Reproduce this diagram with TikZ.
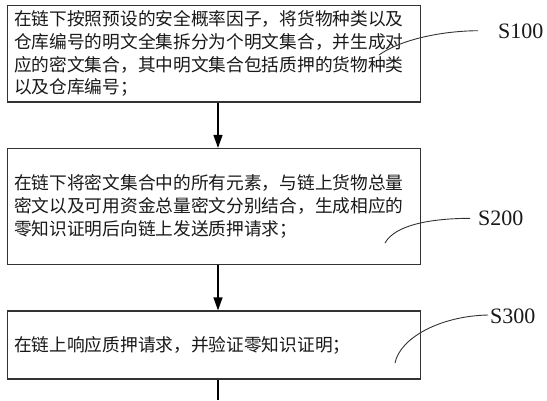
\documentclass[tikz,border=0pt]{standalone}
\usepackage{fontspec}
\setmainfont{Liberation Serif}
\newfontfamily\cjk{Noto Sans CJK SC}
\usetikzlibrary{arrows.meta}
\tikzset{
  stepbox/.style={draw=black!80, line width=1.2pt, inner xsep=7pt, inner ysep=0pt,
    text width=399pt, align=left, minimum width=413pt, text=black!90,
    font=\cjk\fontsize{17.7}{22.7}\selectfont},
  flow/.style={draw=black, line width=1.2pt, -{Triangle[length=13pt,width=9pt]}},
  plain/.style={draw=black, line width=1.2pt},
  lead/.style={draw=black!80, line width=0.9pt},
  lab/.style={inner sep=0pt, font=\fontsize{22}{26}\selectfont, text=black!90}
}
\begin{document}
\begin{tikzpicture}[x=1pt,y=-1pt]
\useasboundingbox[fill=white] (0,0) rectangle (547,400);
\node[stepbox, minimum height=96.4pt] (b1) at (213.7,53.8)
  {在链下按照预设的安全概率因子，将货物种类以及\\仓库编号的明文全集拆分为个明文集合，并生成对\\应的密文集合，其中明文集合包括质押的货物种类\\以及仓库编号；};
\node[stepbox, minimum height=116pt] (b2) at (213.7,206.5)
  {在链下将密文集合中的所有元素，与链上货物总量\\密文以及可用资金总量密文分别结合，生成相应的\\零知识证明后向链上发送质押请求；};
\node[stepbox, minimum height=68pt] (b3) at (213.7,345)
  {在链上响应质押请求，并验证零知识证明；};
\coordinate (ax) at (218,0);
\coordinate (bend) at (218,400);
\draw[flow] (b1.south -| ax) -- (b2.north -| ax);
\draw[flow] (b2.south -| ax) -- (b3.north -| ax);
\draw[plain] (b3.south -| ax) -- (bend);
\node[lab, anchor=base west] (l1) at (498,38.3) {S100};
\node[lab, anchor=base west] (l2) at (478,225) {S200};
\node[lab, anchor=base west] (l3) at (490,323.3) {S300};
\coordinate (c1a) at (478,30.7);
\coordinate (c1b) at (379,55);
\coordinate (c2a) at (470,218.3);
\coordinate (c2b) at (385,243);
\coordinate (c3a) at (488,315);
\coordinate (c3b) at (395,363);
\draw[lead] (c1a) .. controls (440,31) and (400,40) .. (c1b);
\draw[lead] (c2a) .. controls (430,218.5) and (395,225) .. (c2b);
\draw[lead] (c3a) .. controls (440,316) and (400,338) .. (c3b);
\end{tikzpicture}
\end{document}
